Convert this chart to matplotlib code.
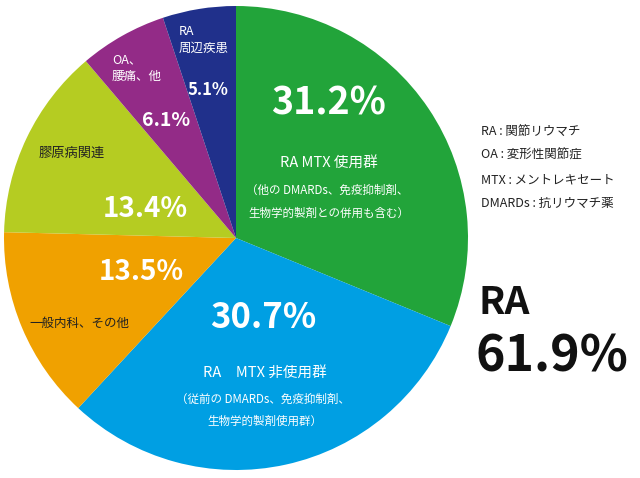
import matplotlib
matplotlib.use("Agg")
import matplotlib.pyplot as plt

plt.rcParams['font.family'] = ['Noto Sans CJK JP', 'DejaVu Sans']

# slices, clockwise from 12 o'clock
values = [31.2, 30.7, 13.5, 13.4, 6.1, 5.1]
pct_labels = ['31.2%', '30.7%', '13.5%', '13.4%', '6.1%', '5.1%']
colors = ['#22a43a', '#009fe3', '#f0a100', '#b5cc22', '#932b87', '#20308b']

legend_lines = ['RA : 関節リウマチ', 'OA : 変形性関節症',
                'MTX : メントレキセート', 'DMARDs : 抗リウマチ薬']

H = 478

fig = plt.figure(figsize=(6.4, 4.78), dpi=100)
ax = fig.add_axes([0, 0, 1, 1])

ax.pie(values, colors=colors, startangle=90, counterclock=False,
       center=(236, H - 238), radius=232, frame=True,
       wedgeprops=dict(linewidth=0))
ax.set_xlim(0, 640)
ax.set_ylim(0, H)
ax.set_aspect('equal')
ax.axis('off')


def txt(x, y, s, size, color='white', weight='normal', ha='center'):
    ax.text(x, H - y, s, fontsize=size, color=color, fontweight=weight,
            ha=ha, va='center')


# percentages
pct_pos = [(329, 103, 27), (263, 318, 25), (141, 272, 20),
           (145, 209, 20), (166, 120, 14), (208, 90, 12)]
for (x, y, s), lab in zip(pct_pos, pct_labels):
    txt(x, y, lab, s, weight='bold')

# slice descriptions
txt(329, 163, 'RA MTX 使用群', 10.5)
txt(327, 190, '（他の DMARDs、免疫抑制剤、', 8.3)
txt(329, 213, '生物学的製剤との併用も含む）', 8.3)

txt(265, 373, 'RA　MTX 非使用群', 10.5)
txt(263, 399, '（従前の DMARDs、免疫抑制剤、', 8.3)
txt(265, 421, '生物学的製剤使用群）', 8.3)

txt(79, 323, '一般内科、その他', 9, color='#222222')
txt(72, 153, '膠原病関連', 9.5, color='#222222')

txt(112, 60, 'OA、', 9, ha='left')
txt(112, 76, '腰痛、他', 9, ha='left')
txt(179, 31, 'RA', 9, ha='left')
txt(179, 48, '周辺疾患', 9, ha='left')

# legend notes
for i, line in enumerate(legend_lines):
    txt(481, 131 + i * 24.3, line, 9, color='#222222', ha='left')

# RA total
txt(478, 302, 'RA', 28, color='#111111', weight='bold', ha='left')
txt(476, 357, '61.9%', 36, color='#111111', weight='bold', ha='left')

fig.savefig('out.png', dpi=100)
